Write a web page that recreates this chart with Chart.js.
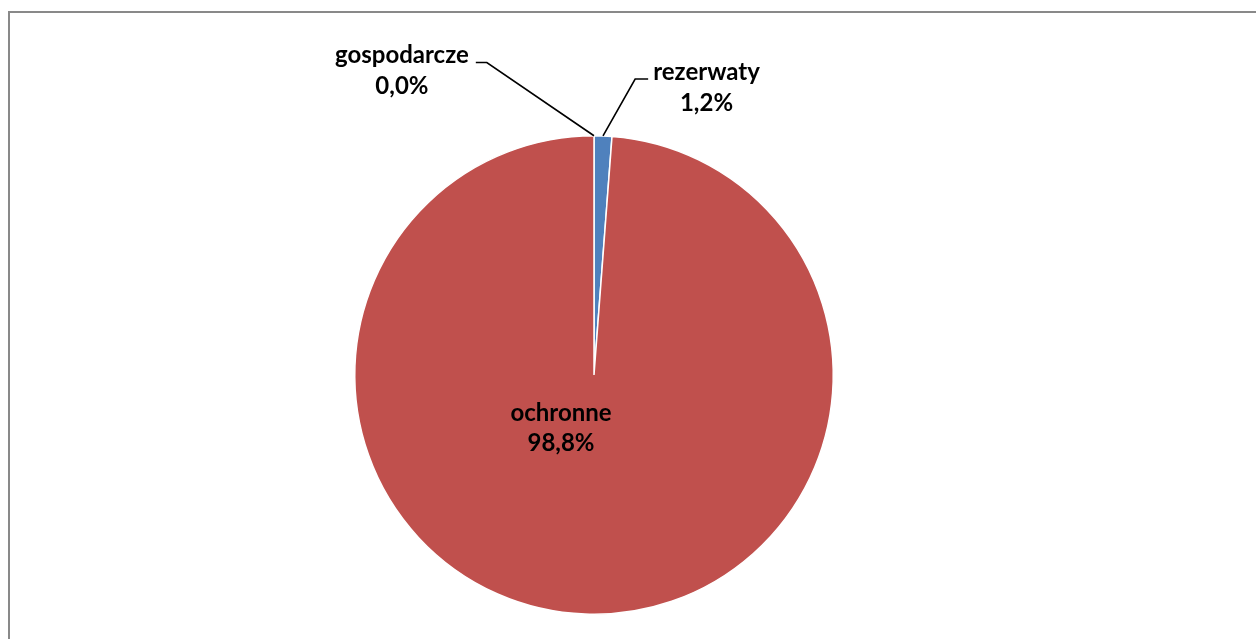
<!DOCTYPE html>
<html><head><meta charset="utf-8">
<script src="https://cdn.jsdelivr.net/npm/chart.js@4.4.1/dist/chart.umd.min.js"></script>
<style>html,body{margin:0;padding:0;background:#fff;}#wrap{position:relative;width:1256px;height:639px;}</style>
</head><body><div id="wrap"><canvas id="c" width="1256" height="639"></canvas></div>
<script>
const categories = ['rezerwaty', 'ochronne', 'gospodarcze'];
const values = [1.2, 98.8, 0.0];
const valueLabels = ['1,2%', '98,8%', '0,0%'];
const colors = ['#4F81BD', '#C0504D', '#9BBB59'];

const FONT = 'bold 24px Lato, "Open Sans", sans-serif';

const framePlugin = {
  id: 'frame',
  beforeDraw(chart) {
    const ctx = chart.ctx;
    ctx.save();
    ctx.fillStyle = '#fff';
    ctx.fillRect(0, 0, chart.width, chart.height);
    ctx.strokeStyle = '#898989';
    ctx.lineWidth = 2;
    ctx.strokeRect(9, 12, chart.width + 20, chart.height + 20);
    ctx.restore();
  }
};

const labelPlugin = {
  id: 'labels',
  afterDraw(chart) {
    const ctx = chart.ctx;
    const meta = chart.getDatasetMeta(0);
    ctx.save();
    ctx.font = FONT;
    ctx.fillStyle = '#000';
    ctx.textBaseline = 'middle';
    meta.data.forEach((arc, i) => {
      const p = arc.getProps(['x', 'y', 'startAngle', 'endAngle', 'outerRadius'], true);
      const r = p.outerRadius;
      const mid = (p.startAngle + p.endAngle) / 2;
      const ex = p.x + Math.cos(mid) * r, ey = p.y + Math.sin(mid) * r;
      if (i === 1) {
        ctx.textAlign = 'center';
        const lx = p.x - 0.138 * r, ly = p.y + 0.16 * r;
        ctx.fillText(categories[i], lx, ly);
        ctx.fillText(valueLabels[i], lx, ly + 30);
        return;
      }
      ctx.strokeStyle = '#000';
      ctx.lineWidth = 1.6;
      ctx.beginPath();
      let kx, ky, hx, tx;
      if (i === 0) {
        kx = p.x + 0.172 * r; ky = p.y - 1.237 * r; hx = kx + 13; tx = hx + 5;
        ctx.textAlign = 'left';
      } else {
        kx = p.x - 0.448 * r; ky = p.y - 1.306 * r; hx = kx - 11; tx = hx - 7;
        ctx.textAlign = 'right';
      }
      ctx.moveTo(ex, ey); ctx.lineTo(kx, ky); ctx.lineTo(hx, ky);
      ctx.stroke();
      ctx.fillText(categories[i], tx, ky - 7);
      const w = ctx.measureText(categories[i]).width;
      ctx.textAlign = 'center';
      const cx = i === 0 ? tx + w / 2 : tx - w / 2;
      ctx.fillText(valueLabels[i], cx, ky + 24);
    });
    ctx.restore();
  }
};

new Chart(document.getElementById('c'), {
  type: 'pie',
  data: {
    labels: categories,
    datasets: [{
      data: values,
      backgroundColor: colors,
      borderColor: '#ffffff',
      borderWidth: 1.5,
      hoverOffset: 0
    }]
  },
  options: {
    responsive: false,
    animation: false,
    layout: { padding: { left: 300, right: 368, top: 135, bottom: 24 } },
    plugins: { legend: { display: false }, tooltip: { enabled: false } }
  },
  plugins: [framePlugin, labelPlugin]
});
</script></body></html>
